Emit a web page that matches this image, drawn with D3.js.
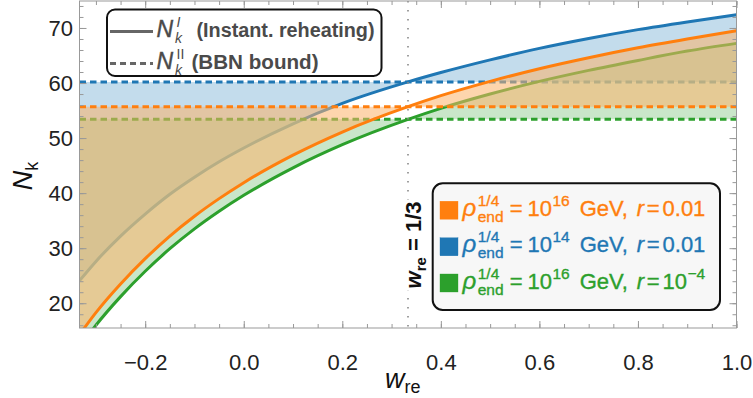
<!DOCTYPE html>
<html>
<head>
<meta charset="utf-8">
<script src="https://cdn.jsdelivr.net/npm/d3@7"></script>
<style>
  body { margin: 0; background: #fff; }
  svg { display: block; font-family: "Liberation Sans", Arial, sans-serif; }
</style>
</head>
<body>
<div id="chart"></div>
<script>
// equation of state during reheating (sample points)
var wre = [-0.3333, -0.3, -0.25, -0.2, -0.15, -0.1, -0.05, 0.0, 0.1, 0.2, 0.3333, 0.4, 0.5, 0.6, 0.7, 0.8, 0.9, 1.0];
// N_k^I (instant reheating) for each parameter set
var nkBlue   = [24.1, 27.6, 32.2, 36.2, 39.8, 42.9, 45.7, 48.2, 52.6, 56.3, 60.2, 61.9, 64.2, 66.3, 68.1, 69.7, 71.1, 72.4];
var nkOrange = [14.3, 18.3, 23.5, 28.1, 32.2, 35.8, 39.0, 41.9, 46.9, 51.1, 55.7, 57.7, 60.3, 62.6, 64.6, 66.4, 68.0, 69.5];
var nkGreen  = [12.0, 16.0, 21.2, 25.8, 29.9, 33.5, 36.7, 39.6, 44.6, 48.8, 53.4, 55.4, 58.0, 60.3, 62.3, 64.1, 65.8, 67.2];
// N_k^II (BBN bound), constant in w_re
var bbnBlue = 60.2, bbnOrange = 55.7, bbnGreen = 53.4;

var xTicks = [-0.2, 0.0, 0.2, 0.4, 0.6, 0.8, 1.0];
var yTicks = [20, 30, 40, 50, 60, 70];
var wMarker = 1 / 3;

var width = 753, height = 398;
var margin = { top: 1, right: 16.5, bottom: 70, left: 79.5 };

var x = d3.scaleLinear().domain([-1 / 3, 1]).range([margin.left, width - margin.right]);
var y = d3.scaleLinear().domain([15.5, 74.9]).range([height - margin.bottom, margin.top]);

var svg = d3.select("#chart").append("svg")
  .attr("width", width)
  .attr("height", height);

svg.append("clipPath").attr("id", "plot-clip")
  .append("rect")
  .attr("x", margin.left).attr("y", margin.top)
  .attr("width", width - margin.left - margin.right)
  .attr("height", height - margin.top - margin.bottom);

var plot = svg.append("g").attr("clip-path", "url(#plot-clip)");

// drawn in this order so the orange band lies over the others
var series = [
  { nk: nkBlue,   bbn: bbnBlue,   line: "#1f77b4", fill: "rgb(146,191,220)" },
  { nk: nkGreen,  bbn: bbnGreen,  line: "#2ca02c", fill: "rgb(156,209,156)" },
  { nk: nkOrange, bbn: bbnOrange, line: "#ff7f0e", fill: "rgb(252,178,106)" }
];

var curve = d3.line()
  .x(function (d) { return x(d.w); })
  .y(function (d) { return y(d.n); })
  .curve(d3.curveMonotoneX);

series.forEach(function (s) {
  var pts = wre.map(function (w, i) { return { w: w, n: s.nk[i] }; });

  var band = d3.area()
    .x(function (d) { return x(d.w); })
    .y0(y(s.bbn))
    .y1(function (d) { return y(d.n); })
    .curve(d3.curveMonotoneX);

  plot.append("path")
    .attr("d", band(pts))
    .attr("fill", s.fill)
    .attr("fill-opacity", 0.55);

  plot.append("path")
    .attr("d", curve([{ w: -1 / 3, n: s.bbn }, { w: 1, n: s.bbn }]))
    .attr("fill", "none")
    .attr("stroke", s.line)
    .attr("stroke-width", 3)
    .attr("stroke-dasharray", "6.5,4");

  plot.append("path")
    .attr("d", curve(pts))
    .attr("fill", "none")
    .attr("stroke", s.line)
    .attr("stroke-width", 3);
});

// dotted marker at w_re = 1/3
plot.append("line")
  .attr("x1", x(wMarker)).attr("x2", x(wMarker))
  .attr("y1", margin.top).attr("y2", height - margin.bottom)
  .attr("stroke", "#888")
  .attr("stroke-width", 1.6)
  .attr("stroke-dasharray", "1.6,7.4");

var markLabel = svg.append("g")
  .attr("transform", "translate(" + (x(wMarker) + 13) + ",245) rotate(-90)");
var markBg = markLabel.append("rect").attr("fill", "#fff");
var markText = markLabel.append("text")
  .attr("text-anchor", "middle")
  .style("font-weight", "bold")
  .style("font-size", "22px")
  .attr("fill", "#111");
markText.append("tspan").style("font-style", "italic").text("w");
markText.append("tspan").attr("dy", 5).style("font-size", "15px").text("re");
markText.append("tspan").attr("dy", -5).text(" = 1/3");
var mb = markText.node().getBBox();
markBg.attr("x", mb.x - 2).attr("y", mb.y + 2).attr("width", mb.width + 4).attr("height", mb.height - 2);

// frame with inward ticks on all sides
var xMinor = d3.range(-0.3, 1.001, 0.05);
var yMinor = d3.range(16, 75, 2);

function styleAxis(g) {
  g.select(".domain").remove();
  g.selectAll(".tick line").attr("stroke", "#999");
  g.selectAll(".tick text")
    .attr("fill", "#222")
    .style("font-size", "22px")
    .style("font-family", "\"Liberation Sans\", Arial, sans-serif");
}

var bottomY = height - margin.bottom, rightX = width - margin.right;

svg.append("g").attr("transform", "translate(0," + bottomY + ")")
  .call(d3.axisBottom(x).tickValues(xMinor).tickSize(-4).tickFormat("")).call(styleAxis);
svg.append("g").attr("transform", "translate(0," + bottomY + ")")
  .call(d3.axisBottom(x).tickValues(xTicks).tickSize(-7).tickPadding(26).tickFormat(d3.format(".1f")))
  .call(styleAxis);
svg.append("g").attr("transform", "translate(0," + margin.top + ")")
  .call(d3.axisTop(x).tickValues(xMinor).tickSize(-4).tickFormat("")).call(styleAxis);
svg.append("g").attr("transform", "translate(0," + margin.top + ")")
  .call(d3.axisTop(x).tickValues(xTicks).tickSize(-7).tickFormat("")).call(styleAxis);

svg.append("g").attr("transform", "translate(" + margin.left + ",0)")
  .call(d3.axisLeft(y).tickValues(yMinor).tickSize(-4).tickFormat("")).call(styleAxis);
svg.append("g").attr("transform", "translate(" + margin.left + ",0)")
  .call(d3.axisLeft(y).tickValues(yTicks).tickSize(-7).tickPadding(6.5).tickFormat(d3.format("d")))
  .call(styleAxis);
svg.append("g").attr("transform", "translate(" + rightX + ",0)")
  .call(d3.axisRight(y).tickValues(yMinor).tickSize(-4).tickFormat("")).call(styleAxis);
svg.append("g").attr("transform", "translate(" + rightX + ",0)")
  .call(d3.axisRight(y).tickValues(yTicks).tickSize(-7).tickFormat("")).call(styleAxis);

svg.append("rect")
  .attr("x", margin.left).attr("y", margin.top)
  .attr("width", rightX - margin.left)
  .attr("height", bottomY - margin.top)
  .attr("fill", "none")
  .attr("stroke", "#999");

// axis labels
var xLab = svg.append("text").attr("x", 385).attr("y", 388).attr("fill", "#111").style("font-size", "27px");
xLab.append("tspan").style("font-style", "italic").text("w");
xLab.append("tspan").attr("dy", 5).style("font-size", "18px").text("re");

var yLab = svg.append("text")
  .attr("transform", "translate(32,176) rotate(-90)")
  .attr("text-anchor", "middle")
  .attr("fill", "#111")
  .style("font-size", "27px");
yLab.append("tspan").style("font-style", "italic").text("N");
yLab.append("tspan").attr("dy", 6).style("font-size", "18px").text("k");

// legend: line styles
var leg1 = svg.append("g");
leg1.append("rect")
  .attr("x", 107).attr("y", 9.5).attr("width", 274.5).attr("height", 66.5).attr("rx", 8)
  .attr("fill", "#fff").attr("stroke", "#111").attr("stroke-width", 2);

var styleRows = [
  { y: 36.5, sup: "I", supItalic: true, note: "(Instant. reheating)", noteX: 196.5, noteW: 178, dash: null },
  { y: 68.5, sup: "II", supItalic: false, note: "(BBN bound)", noteX: 191.5, noteW: 127, dash: "6,4" }
];
styleRows.forEach(function (r) {
  leg1.append("line")
    .attr("x1", 110).attr("x2", 153)
    .attr("y1", r.y - 5).attr("y2", r.y - 5)
    .attr("stroke", "#666").attr("stroke-width", 3)
    .attr("stroke-dasharray", r.dash);
  leg1.append("text").attr("x", 156.5).attr("y", r.y)
    .attr("fill", "#4a4a4a").attr("stroke", "#4a4a4a").attr("stroke-width", 0.4)
    .style("font-size", "23px").style("font-style", "italic").text("N");
  leg1.append("text").attr("x", 176.5).attr("y", r.y - 9.5)
    .attr("fill", "#4a4a4a").style("font-size", "14px")
    .style("font-style", r.supItalic ? "italic" : "normal").text(r.sup);
  leg1.append("text").attr("x", 175).attr("y", r.y + 6)
    .attr("fill", "#4a4a4a").style("font-size", "14px").style("font-style", "italic").text("k");
  leg1.append("text").attr("x", r.noteX).attr("y", r.y)
    .attr("fill", "#4a4a4a").style("font-size", "20px").style("font-weight", "bold")
    .attr("textLength", r.noteW).attr("lengthAdjust", "spacingAndGlyphs")
    .text(r.note);
});

// legend: parameter sets
var leg2 = svg.append("g");
leg2.append("rect")
  .attr("x", 432.7).attr("y", 183.3).attr("width", 287.3).attr("height", 126.7).attr("rx", 10)
  .attr("fill", "#f7f7f7").attr("stroke", "#111").attr("stroke-width", 2);

var legendColors = ["#ff7f0e", "#1f77b4", "#2ca02c"];
var legendExp = ["16", "14", "16"];
var legendR = [["0.01", null], ["0.01", null], ["10", "\u22124"]];
var legendBase = [215.7, 252.3, 288.5];

legendColors.forEach(function (c, i) {
  var b = legendBase[i];
  var row = leg2.append("g").attr("fill", c).attr("stroke", c).attr("stroke-width", 0.35);
  row.append("rect").attr("x", 440).attr("y", b - 14.5).attr("width", 18).attr("height", 18);
  // place a piece and return its right edge
  function piece(px, py, t, size, italic) {
    var node = row.append("text").attr("x", px).attr("y", py)
      .style("font-size", size + "px")
      .style("font-style", italic ? "italic" : "normal")
      .text(t).node();
    return px + node.getComputedTextLength();
  }
  var cx = piece(462.5, b, "\u03c1", 24, true);
  var e1 = piece(cx + 1.5, b - 10, "1/4", 15.5, false);
  var e2 = piece(cx + 1.5, b + 6, "end", 15.5, false);
  cx = Math.max(e1, e2) + 6;
  cx = piece(cx, b, "=", 22, false) + 5;
  cx = piece(cx, b, "10", 22, false) + 0.5;
  cx = piece(cx, b - 10, legendExp[i], 15.5, false) + 10;
  cx = piece(cx, b, "GeV,", 22, false) + 9;
  cx = piece(cx, b, "r", 22, true) + 2.5;
  cx = piece(cx, b, "=", 22, false) + 3;
  cx = piece(cx, b, legendR[i][0], 22, false) + 0.5;
  if (legendR[i][1]) piece(cx, b - 10, legendR[i][1], 15.5, false);
});
</script>
</body>
</html>
